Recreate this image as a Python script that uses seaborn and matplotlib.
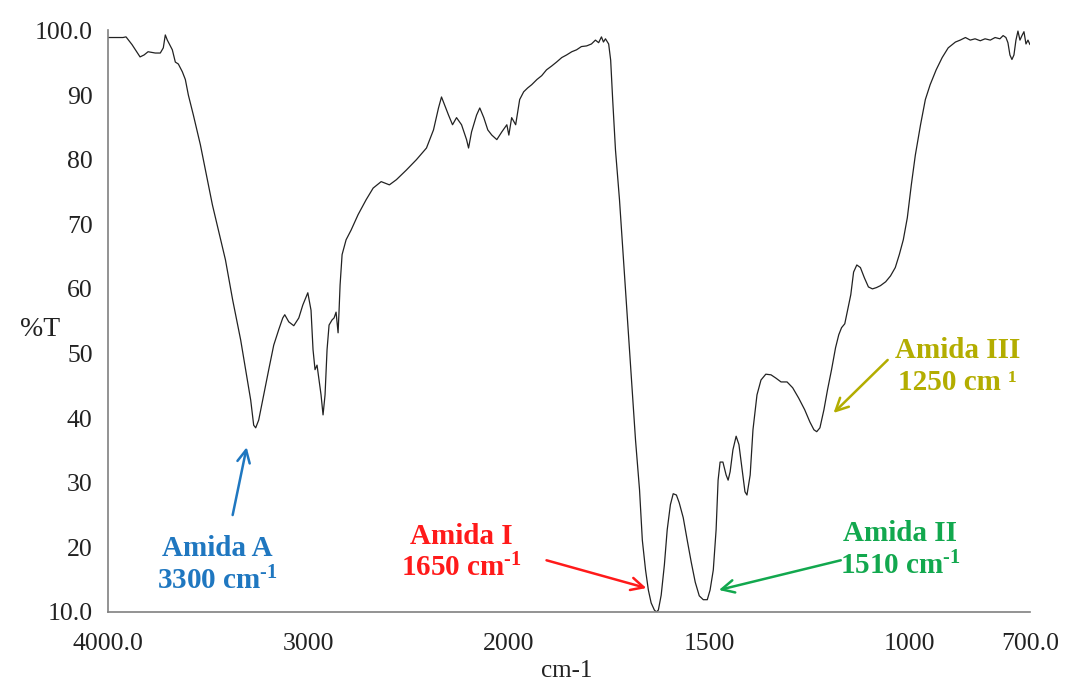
import numpy as np
import pandas as pd
import matplotlib
matplotlib.use("Agg")
import matplotlib.pyplot as plt
import seaborn as sns

# ---- data (wavenumber cm-1, %T) ----
wavenumber = [4000, 3925, 3910, 3880, 3840, 3820, 3800, 3764, 3739, 3724, 3714, 3704, 3679, 3664,
              3649, 3629, 3614, 3599, 3574, 3539, 3504, 3479, 3449, 3414, 3378, 3338, 3313, 3288,
              3273, 3263, 3248, 3223, 3198, 3173, 3148, 3128, 3118, 3098, 3073, 3048, 3028, 3003,
              2987, 2977, 2967, 2957, 2947, 2937, 2927, 2917, 2907, 2897, 2882, 2872, 2862, 2852,
              2847, 2842, 2832, 2812, 2787, 2752, 2712, 2677, 2637, 2596, 2561, 2511, 2461, 2411,
              2376, 2351, 2336, 2321, 2301, 2281, 2261, 2236, 2211, 2201, 2186, 2161, 2145, 2125,
              2105, 2085, 2060, 2035, 2010, 2000,
              1993, 1983, 1973, 1963, 1953, 1943, 1930, 1918, 1906, 1893, 1881, 1868, 1856, 1843,
              1831, 1819, 1806, 1794, 1784, 1776, 1769, 1764, 1759, 1751, 1746, 1741, 1734, 1724,
              1714, 1704, 1694, 1684, 1674, 1667, 1659, 1652, 1645, 1637, 1632, 1627, 1620, 1612,
              1605, 1597, 1590, 1582, 1575, 1565, 1555, 1545, 1535, 1525, 1515, 1505, 1498, 1490,
              1483, 1478, 1473, 1466, 1458, 1453, 1448, 1441, 1433, 1426, 1418, 1411, 1406, 1398,
              1391, 1381, 1371, 1359, 1346, 1334, 1321, 1306, 1292, 1277, 1262, 1249, 1239, 1232,
              1224, 1214, 1205, 1195, 1185, 1177, 1170, 1162, 1155, 1147, 1140, 1132, 1123, 1113,
              1103, 1093, 1083, 1073, 1060, 1048, 1036, 1026, 1016, 1006, 996, 986, 973, 961,
              949, 934, 919, 904, 886, 874, 861, 849, 837, 824, 812, 799, 787, 775,
              767, 760, 755, 750, 745, 740, 735, 730, 725, 720, 715, 710, 705, 700]
transmittance = [98.9, 98.9, 99.0, 97.8, 95.9, 96.2, 96.7, 96.5, 96.5, 97.3, 99.3, 98.5, 97.0, 95.1,
                 94.8, 93.6, 92.4, 90.0, 86.9, 82.3, 76.9, 73.0, 69.1, 64.5, 58.3, 52.1, 47.5, 42.8,
                 38.9, 38.5, 39.7, 43.6, 47.5, 51.3, 53.7, 55.5, 56.0, 54.9, 54.3, 55.5, 57.5, 59.4,
                 56.7, 50.6, 47.5, 48.2, 45.9, 43.6, 40.5, 43.6, 50.6, 54.4, 55.2, 55.5, 56.4, 53.2,
                 56.7, 60.6, 65.3, 67.6, 69.1, 71.5, 73.8, 75.6, 76.6, 76.1, 76.9, 78.4, 80.0, 81.8,
                 84.6, 88.0, 89.7, 88.5, 86.9, 85.4, 86.5, 85.4, 83.1, 81.8, 84.3, 86.9, 88.0, 86.5,
                 84.6, 83.8, 83.1, 84.3, 85.4, 83.8,
                 86.5, 85.4, 89.3, 90.5, 91.1, 91.6, 92.4, 93.0, 93.9, 94.5, 95.1, 95.8, 96.2, 96.7,
                 97.0, 97.5, 97.6, 97.9, 98.5, 98.1, 99.0, 98.2, 98.7, 97.9, 95.4, 89.3, 81.5, 73.8,
                 64.5, 55.2, 45.9, 36.6, 28.9, 21.1, 16.5, 13.4, 11.4, 10.3, 10.0, 10.3, 12.6, 17.3,
                 22.7, 26.6, 28.3, 28.1, 26.9, 24.6, 21.1, 17.7, 14.6, 12.5, 11.9, 11.9, 13.4, 16.5,
                 22.7, 30.4, 33.2, 33.2, 31.2, 30.4, 31.7, 35.1, 37.2, 35.9, 32.0, 28.6, 28.1, 31.2,
                 38.2, 43.6, 45.9, 46.8, 46.7, 46.2, 45.6, 45.6, 44.7, 43.1, 41.3, 39.4, 38.2, 37.9,
                 38.5, 41.3, 44.4, 47.5, 50.9, 52.9, 54.0, 54.6, 56.7, 59.1, 62.6, 63.7, 63.3, 61.7,
                 60.3, 60.0, 60.2, 60.5, 61.1, 62.0, 63.3, 65.3, 67.6, 71.0, 76.1, 80.7, 85.4, 89.3,
                 91.6, 93.9, 95.8, 97.3, 98.2, 98.5, 98.9, 98.5, 98.7, 98.4, 98.7, 98.5, 98.9, 98.7,
                 99.2, 98.9, 98.1, 96.2, 95.5, 96.2, 98.5, 99.9, 98.5, 99.2, 99.8, 97.9, 98.5, 97.8]

x_ticks = [4000, 3000, 2000, 1500, 1000, 700]
x_tick_labels = ["4000.0", "3000", "2000", "1500", "1000", "700.0"]
y_ticks = [10, 20, 30, 40, 50, 60, 70, 80, 90, 100]
y_tick_labels = ["10.0", "20", "30", "40", "50", "60", "70", "80", "90", "100.0"]

# annotations: label, colour, text position, arrow tail, arrow head (data units)
ann_labels = ["Amida A\n3300 cm$^{\\mathbf{\\text{-}1}}$", "Amida I\n1650 cm$^{\\mathbf{\\text{-}1}}$",
              "Amida II\n1510 cm$^{\\mathbf{\\text{-}1}}$", "Amida III\n1250 cm \u00b9"]
ann_colors = ["#1F77C0", "#FF1A1A", "#12A84E", "#B3AD00"]
ann_text_xy = [(3454, 17.2), (2236, 19.2), (1023, 19.6), (881, 48.0)]
ann_tail = [(3378, 25.0), (1906, 18.0), (1172, 18.0), (1055, 49.0)]
ann_head = [(3308, 35.5), (1657, 13.7), (1476, 13.4), (1190, 40.8)]

df = pd.DataFrame({"wn": wavenumber, "T": transmittance})

sns.set_style("white")
plt.rcParams["font.family"] = ["Liberation Serif", "DejaVu Serif"]
plt.rcParams["mathtext.fontset"] = "custom"
plt.rcParams["mathtext.rm"] = "Liberation Serif"
plt.rcParams["mathtext.bf"] = "Liberation Serif:bold"
plt.rcParams["mathtext.it"] = "Liberation Serif:italic"

fig = plt.figure(figsize=(10.67, 6.88), dpi=100)
ax = fig.add_axes([0.1012, 0.1105, 0.8641, 0.8453])


def fwd(x):
    x = np.asarray(x, dtype=float)
    return np.where(x >= 2000, x, 2 * x - 2000)


def inv(y):
    y = np.asarray(y, dtype=float)
    return np.where(y >= 2000, y, (y + 2000) / 2)


ax.set_xscale("function", functions=(fwd, inv))

sns.lineplot(data=df, x="wn", y="T", sort=False, estimator=None, color="#222222",
             linewidth=0.9, ax=ax)

ax.set_xlim(4000, 700)
ax.set_ylim(10, 100)
ax.set_xticks(x_ticks)
ax.set_xticklabels(x_tick_labels)
ax.set_yticks(y_ticks)
ax.set_yticklabels(y_tick_labels)
ax.minorticks_off()

for s in ["top", "right"]:
    ax.spines[s].set_visible(False)
for s in ["left", "bottom"]:
    ax.spines[s].set_color("#808080")
    ax.spines[s].set_linewidth(1.2)

ax.tick_params(axis="both", direction="out", length=5, width=1, color="#606060",
               labelsize=18.5, labelcolor="#222222")
ax.tick_params(axis="x", pad=10)
ax.tick_params(axis="y", pad=7, length=4)

ax.set_xlabel("cm-1", fontsize=18, color="#222222")
ax.xaxis.set_label_coords(0.498, -0.082)
ax.set_ylabel("%T", fontsize=20, rotation=0, color="#222222", ha="center", va="center")
ax.yaxis.set_label_coords(-0.074, 0.485)

for lab, col, txy, tail, head in zip(ann_labels, ann_colors, ann_text_xy, ann_tail, ann_head):
    ax.text(txy[0], txy[1], lab, color=col, fontsize=21, fontweight="bold",
            ha="center", va="center", linespacing=1.2)
    ax.annotate("", xy=head, xytext=tail,
                arrowprops=dict(arrowstyle="->,head_length=0.9,head_width=0.45",
                                color=col, lw=1.8, shrinkA=0, shrinkB=0))

fig.savefig("out.png", dpi=100)
